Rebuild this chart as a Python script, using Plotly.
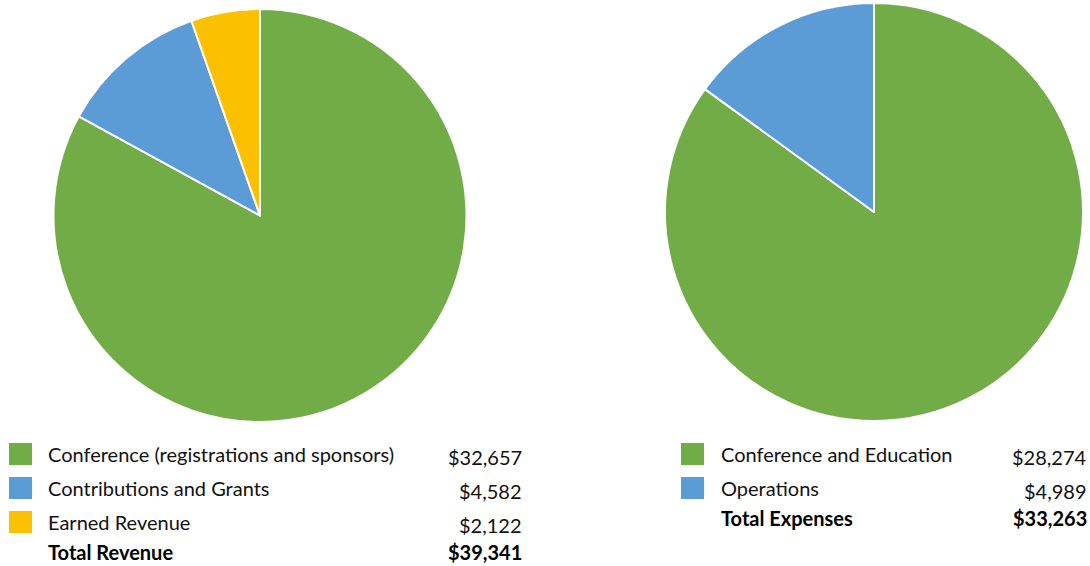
import plotly.graph_objects as go

rev_labels = ["Conference (registrations and sponsors)", "Contributions and Grants", "Earned Revenue"]
rev_values = [32657, 4582, 2122]
rev_colors = ["#71AC47", "#5B9BD6", "#FBC000"]
rev_total_label = "Total Revenue"
rev_total = 39341  # as printed in the reference

exp_labels = ["Conference and Education", "Operations"]
exp_values = [28274, 4989]
exp_colors = ["#71AC47", "#5B9BD6"]
exp_total_label = "Total Expenses"
exp_total = 33263

W, H = 1090, 566
FONT = "Lato"
FS = 20


def px(x):
    return x / W


def py(y):
    return 1 - y / H


fig = go.Figure()
fig.add_trace(go.Pie(
    labels=rev_labels, values=rev_values, sort=False, direction="clockwise", rotation=0,
    marker=dict(colors=rev_colors, line=dict(color="white", width=2)),
    textinfo="none", showlegend=False,
    domain=dict(x=[px(53), px(467)], y=[py(422), py(9)]),
))
fig.add_trace(go.Pie(
    labels=exp_labels, values=exp_values, sort=False, direction="clockwise", rotation=0,
    marker=dict(colors=exp_colors, line=dict(color="white", width=2)),
    textinfo="none", showlegend=False,
    domain=dict(x=[px(665), px(1083)], y=[py(421), py(3)]),
))

shapes = []
annotations = []


def legend(labels, values, colors, total_label, total, x_sq, x_txt, x_val, y0, dy):
    for i, (lab, val, col) in enumerate(zip(labels, values, colors)):
        yc = y0 + i * dy
        shapes.append(dict(type="rect", xref="paper", yref="paper",
                           x0=px(x_sq), x1=px(x_sq + 23), y0=py(yc - 11), y1=py(yc + 11),
                           fillcolor=col, line=dict(width=0)))
        annotations.append(dict(xref="paper", yref="paper", x=px(x_txt), y=py(yc),
                                text=lab, showarrow=False, xanchor="left", yanchor="middle",
                                font=dict(family=FONT, size=FS, color="#111")))
        annotations.append(dict(xref="paper", yref="paper", x=px(x_val), y=py(yc + 3),
                                text=f"${val:,}", showarrow=False, xanchor="right", yanchor="middle",
                                font=dict(family=FONT, size=FS, color="#111")))
    yt = y0 + len(labels) * dy - 4
    annotations.append(dict(xref="paper", yref="paper", x=px(x_txt), y=py(yt),
                            text=f"<b>{total_label}</b>", showarrow=False, xanchor="left", yanchor="middle",
                            font=dict(family=FONT, size=FS, color="#000")))
    annotations.append(dict(xref="paper", yref="paper", x=px(x_val), y=py(yt),
                            text=f"<b>${total:,}</b>", showarrow=False, xanchor="right", yanchor="middle",
                            font=dict(family=FONT, size=FS, color="#000")))


legend(rev_labels, rev_values, rev_colors, rev_total_label, rev_total, 9, 46, 524, 454, 34)
legend(exp_labels, exp_values, exp_colors, exp_total_label, exp_total, 681, 719, 1089, 454, 34)

fig.update_layout(
    width=W, height=H, margin=dict(l=0, r=0, t=0, b=0),
    paper_bgcolor="white", plot_bgcolor="white",
    shapes=shapes, annotations=annotations, showlegend=False,
)
fig.write_html("out.html", config={"displayModeBar": False},
               post_script="document.body.style.margin='0';document.body.style.overflow='hidden';")
